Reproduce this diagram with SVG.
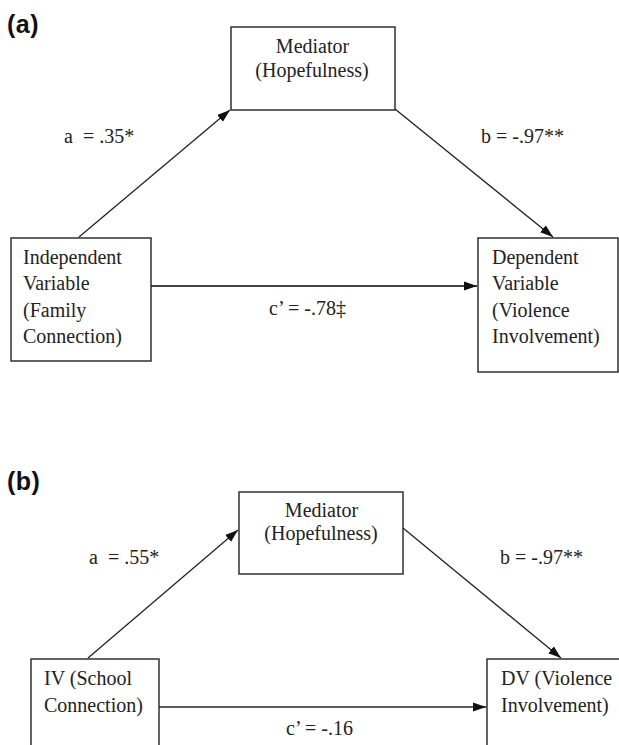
<svg xmlns="http://www.w3.org/2000/svg" width="619" height="745" viewBox="0 0 619 745">
<style>
.box{fill:#fff;stroke:#222;stroke-width:1.4}
.t{font-family:"Liberation Serif","Times New Roman",serif;font-size:20px;fill:#222;white-space:pre}
.m{text-anchor:middle}
.h{font-family:"Liberation Sans",Arial,sans-serif;font-size:25px;font-weight:bold;fill:#111;letter-spacing:0.5px}
.e{stroke:#222;stroke-width:1.3;fill:none}
.eh{stroke:#444;stroke-width:1.8;fill:none}
</style>
<defs>
<marker id="ah" markerUnits="userSpaceOnUse" markerWidth="14" markerHeight="10" refX="13" refY="5" orient="auto">
<path d="M0,0.5 L13,5 L0,9.5 z" fill="#111"/>
</marker>
</defs>
<text class="h" x="7" y="33">(a)</text>
<text class="h" x="7" y="490">(b)</text>
<g id="connectors">
<line class="e" x1="79" y1="237" x2="230" y2="110" marker-end="url(#ah)"/>
<line class="e" x1="395" y1="109" x2="553" y2="237" marker-end="url(#ah)"/>
<line class="eh" x1="151" y1="286" x2="477" y2="286" marker-end="url(#ah)"/>
<line class="e" x1="88" y1="658" x2="238" y2="530" marker-end="url(#ah)"/>
<line class="e" x1="403" y1="528" x2="561" y2="658" marker-end="url(#ah)"/>
<line class="e" x1="159" y1="707" x2="486" y2="707" marker-end="url(#ah)"/>
</g>
<g id="labels">
<text class="t" x="64" y="143" xml:space="preserve">a  = .35*</text>
<text class="t" x="481" y="143">b = -.97**</text>
<text class="t" x="269" y="315">c’ = -.78‡</text>
<text class="t" x="89" y="564" xml:space="preserve">a  = .55*</text>
<text class="t" x="500" y="564">b = -.97**</text>
<text class="t" x="286" y="735">c’ = -.16</text>
</g>
<g id="med-a">
<rect class="box" x="231" y="27" width="164" height="83"/>
<text class="t m" x="312.5" y="53">Mediator</text>
<text class="t m" x="312" y="77">(Hopefulness)</text>
</g>
<g id="iv-a">
<rect class="box" x="11" y="238" width="140" height="123"/>
<text class="t" x="23" y="264">Independent</text>
<text class="t" x="23" y="290">Variable</text>
<text class="t" x="23" y="317">(Family</text>
<text class="t" x="23" y="343">Connection)</text>
</g>
<g id="dv-a">
<rect class="box" x="478" y="238" width="140" height="134"/>
<text class="t" x="492" y="264">Dependent</text>
<text class="t" x="492" y="290">Variable</text>
<text class="t" x="492" y="317">(Violence</text>
<text class="t" x="492" y="343">Involvement)</text>
</g>
<g id="med-b">
<rect class="box" x="239" y="492" width="164" height="82"/>
<text class="t m" x="321.5" y="517">Mediator</text>
<text class="t m" x="321" y="540">(Hopefulness)</text>
</g>
<g id="iv-b">
<rect class="box" x="31" y="659" width="128" height="100"/>
<text class="t" x="44" y="685">IV (School</text>
<text class="t" x="44" y="712">Connection)</text>
</g>
<g id="dv-b">
<rect class="box" x="487" y="659" width="140" height="100"/>
<text class="t" x="501" y="685">DV (Violence</text>
<text class="t" x="501" y="712">Involvement)</text>
</g>
</svg>
